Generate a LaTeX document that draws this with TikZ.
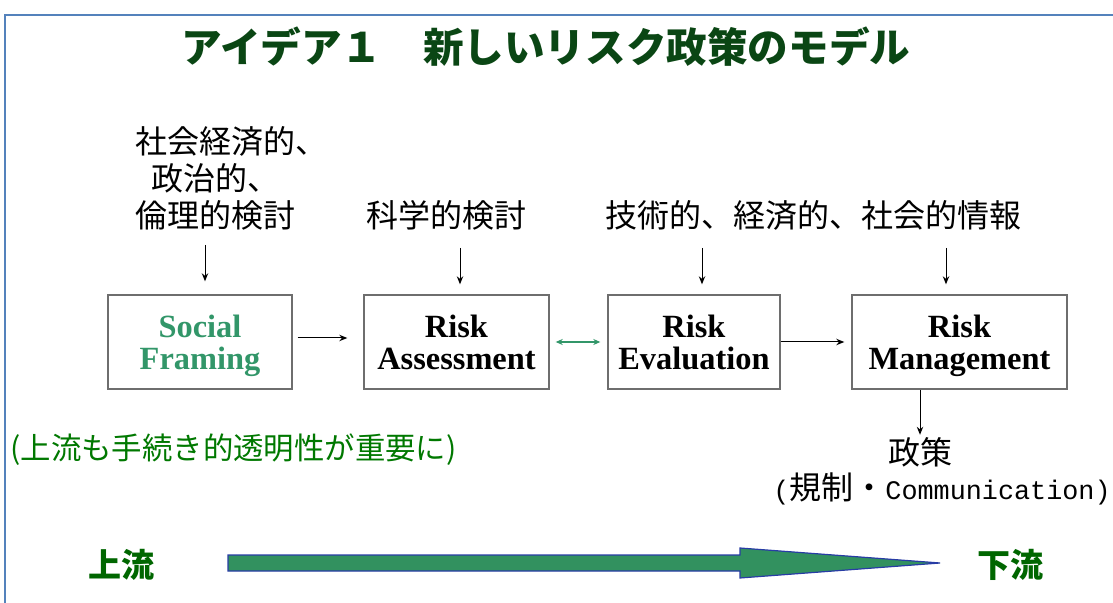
\documentclass[tikz,border=0pt]{standalone}
\usepackage{fontspec}
\setmainfont{Noto Sans CJK JP}
\newfontfamily\stagefont{Liberation Serif}
\newfontfamily\monofont{Liberation Mono}
\usepackage{tikz}
\usetikzlibrary{arrows.meta, positioning}
\usepackage{xcolor}

\definecolor{frameblue}{RGB}{84,130,188}
\definecolor{titlegreen}{RGB}{10,70,20}
\definecolor{notegreen}{RGB}{0,120,0}
\definecolor{socialgreen}{RGB}{50,150,105}
\definecolor{flowgreen}{RGB}{50,145,95}
\definecolor{flowedge}{RGB}{40,60,165}
\definecolor{boxgray}{RGB}{110,110,110}

\tikzset{
  stagebox/.style={draw=boxgray, line width=0.7pt, minimum height=47pt, align=center,
    inner sep=0pt, text depth=0pt, font=\stagefont\bfseries\fontsize{16.2}{16}\selectfont},
  jptext/.style={font=\fontsize{16}{18.5}\selectfont, inner sep=1pt},
  inarrow/.style={-{Stealth[length=4pt,width=3.2pt]}, line width=0.5pt},
  linkarrow/.style={{Stealth[length=3.5pt,width=3pt]}-{Stealth[length=3.5pt,width=3pt]}, line width=0.6pt, draw=socialgreen},
}

\begin{document}
\begin{tikzpicture}[x=0.5pt, y=-0.5pt]
        \useasboundingbox (0,0) rectangle (1113,603);
        % frame
        \draw[frameblue, line width=1pt] (5,603) -- (5,15) -- (1113,15);

        \node[font=\bfseries\fontsize{20.3}{23}\selectfont, text=titlegreen] (title) at (546,47) {アイデア１　新しいリスク政策のモデル};

        % inputs
        \node[jptext, align=left, anchor=north west] (ethics) at (133,124)
            {社会経済的、\\\hspace{0.5em}政治的、\\倫理的検討};
        \node[jptext] (science) at (446,215) {科学的検討};
        \node[jptext] (info) at (813,215) {技術的、経済的、社会的情報};

        % stages
        \node[stagebox, minimum width=92pt, text=socialgreen] (sf) at (200,342) {Social\\Framing};
        \node[stagebox, minimum width=92.5pt] (ra) at (456.5,342) {Risk\\Assessment};
        \node[stagebox, minimum width=86pt] (re) at (694,342) {Risk\\Evaluation};
        \node[stagebox, minimum width=107.5pt] (rm) at (959.5,342) {Risk\\Management};

        \coordinate (sfin) at (205,245);
        \coordinate (rain) at (460,248);
        \coordinate (rein) at (702,248);
        \coordinate (rmin) at (946,248);
        \draw[inarrow, shorten >=6.5pt] (sfin) -- (sfin |- sf.north);
        \draw[inarrow, shorten >=5pt] (rain) -- (rain |- ra.north);
        \draw[inarrow, shorten >=5pt] (rein) -- (rein |- re.north);
        \draw[inarrow, shorten >=5pt] (rmin) -- (rmin |- rm.north);

        \draw[inarrow, shorten <=2.5pt, shorten >=8pt] ([yshift=2pt]sf.east) -- ([yshift=2pt]ra.west);
        \draw[linkarrow, shorten <=3pt, shorten >=3.5pt] (ra.east) -- (re.west);
        \draw[inarrow, shorten >=3.5pt] (re.east) -- (rm.west);

        % output
        \node[jptext] (policy) at (920,452) {政策};
        \node[jptext] (tools) at (942,489)
            {{\monofont\fontsize{13.4}{16}\selectfont(}規制・{\monofont\fontsize{13.4}{16}\selectfont Communication)}};
        \draw[inarrow] (policy.north |- rm.south) -- (policy.north);

        \node[jptext, anchor=west, text=notegreen, font=\fontsize{15.2}{18}\selectfont] (note) at (8,450)
            {(上流も手続き的透明性が重要に)};

        % flow
        \node[font=\bfseries\fontsize{16.5}{18}\selectfont, text=notegreen!85!black] (up) at (121,565) {上流};
        \node[font=\bfseries\fontsize{16.5}{18}\selectfont, text=notegreen!85!black] (down) at (1010,565) {下流};
        \draw[fill=flowgreen, draw=flowedge, line width=0.6pt]
            (228,555) -- (740,555) -- (740,548) -- (940,563) -- (740,578) -- (740,571) -- (228,571) -- cycle;
    \end{tikzpicture}
\end{document}
